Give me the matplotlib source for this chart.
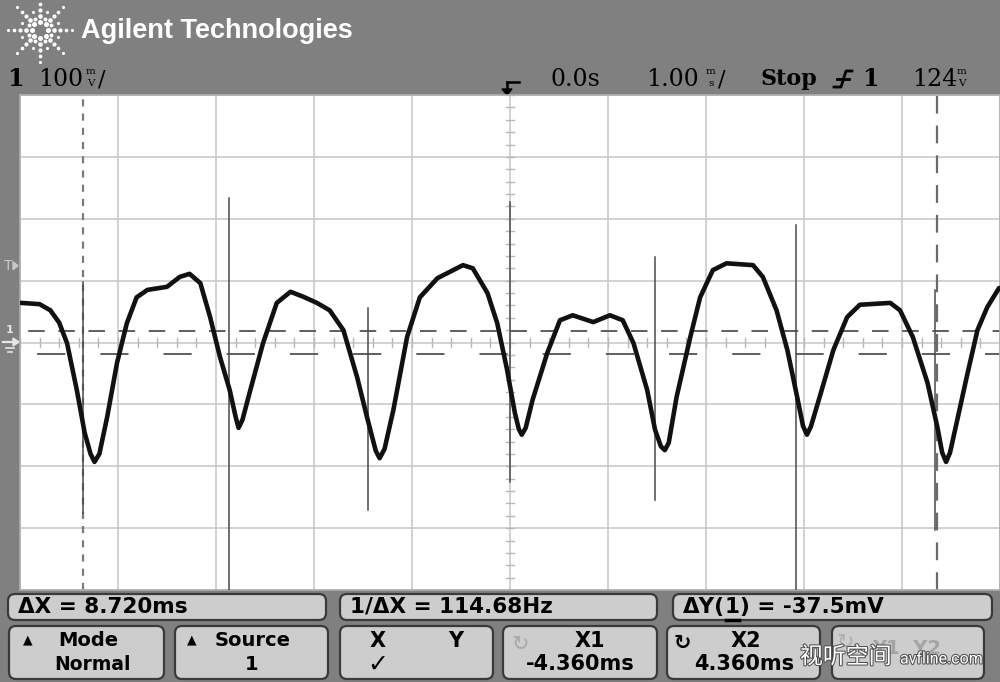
import numpy as np
import matplotlib.pyplot as plt
from matplotlib.patches import FancyBboxPatch, Polygon
import matplotlib.patheffects as pe

# channel 1 trace (time in ms, voltage in mV)
t_ms = [-4.99, -4.80, -4.69, -4.60, -4.52, -4.42, -4.34, -4.28, -4.24, -4.19, -4.11,
        -4.01, -3.91, -3.81, -3.70, -3.50, -3.37, -3.27, -3.16, -3.06, -2.96,
        -2.86, -2.80, -2.77, -2.73, -2.65, -2.52, -2.38, -2.24, -2.11, -1.97,
        -1.84, -1.70, -1.56, -1.46, -1.37, -1.33, -1.28, -1.19, -1.05, -0.92,
        -0.74, -0.48, -0.38, -0.23, -0.13, -0.03, 0.05, 0.09, 0.12, 0.16,
        0.23, 0.38, 0.51, 0.64, 0.85, 1.02, 1.15, 1.26, 1.40, 1.48,
        1.54, 1.58, 1.62, 1.70, 1.84, 1.94, 2.07, 2.21, 2.48, 2.58,
        2.72, 2.83, 2.93, 2.99, 3.03, 3.07, 3.16, 3.30, 3.44, 3.57,
        3.88, 3.98, 4.11, 4.26, 4.36, 4.41, 4.45, 4.49, 4.56, 4.66,
        4.77, 4.87, 4.99]
v_mv = [64, 62, 52, 32, -1, -77, -146, -180, -193, -180, -120,
        -33, 31, 73, 85, 90, 106, 111, 96, 41, -23,
        -77, -120, -138, -125, -77, -1, 64, 82, 74, 64,
        52, 20, -56, -120, -175, -187, -172, -109, 9, 73,
        104, 125, 120, 80, 31, -44, -114, -140, -149, -138,
        -93, -17, 36, 44, 33, 44, 36, -1, -77, -141,
        -168, -174, -162, -88, 9, 73, 117, 128, 125, 106,
        52, -12, -88, -135, -149, -136, -88, -12, 41, 61,
        64, 52, 9, -65, -136, -178, -193, -178, -128, -56,
        20, 57, 88]

# narrow glitch spikes on the trace
spike_t = [-4.357, -2.867, -1.449, 0.0, 1.480, 2.918, 4.337]
spike_hi = [98, 233, 56, 227, 138, 190, 85]
spike_lo = [-275, -400, -271, -225, -254, -400, -303]

# cursors and trigger level
x1_ms, x2_ms = -4.36, 4.36
y1_mv, y2_mv = 18.75, -18.75
trig_mv = 124

x_div = np.arange(-5, 6, 1)
y_div = np.arange(-400, 401, 100)

GRAY = '#808080'
fig = plt.figure(figsize=(10, 6.82), dpi=100, facecolor=GRAY)

# pixel-space layer for the instrument chrome
bg = fig.add_axes([0, 0, 1, 1])
bg.set_xlim(0, 1000)
bg.set_ylim(682, 0)
bg.axis('off')

# screen
ax = fig.add_axes([20 / 1000, (682 - 590) / 682, 980 / 1000, 495 / 682])
ax.set_xlim(-5, 5)
ax.set_ylim(-400, 400)
ax.set_facecolor('white')
ax.set_xticks([])
ax.set_yticks([])
for s in ax.spines.values():
    s.set_color('#b0b0b0')
    s.set_linewidth(1.2)

for x in x_div:
    ax.axvline(x, color='#c6c6c6', lw=1.1, zorder=1)
for y in y_div:
    ax.axhline(y, color='#c6c6c6', lw=1.1, zorder=1)
# minor ticks on the centre axes
for x in np.arange(-5, 5.01, 0.2):
    ax.plot([x, x], [-7, 7], color='#b8b8b8', lw=1, zorder=1)
for y in np.arange(-400, 401, 20):
    ax.plot([-0.045, 0.045], [y, y], color='#b8b8b8', lw=1, zorder=1)

# cursors
ax.axvline(x1_ms, color='#7a7a7a', lw=1.6, linestyle=(0, (3.2, 3.2)), zorder=2)
ax.axvline(x2_ms, color='#6a6a6a', lw=1.6, linestyle=(0, (8, 5.4)), zorder=2)
ax.axhline(y1_mv, color='#5e5e5e', lw=1.4, linestyle=(11.3, (8.5, 7)), zorder=2)
ax.axhline(y2_mv, color='#5e5e5e', lw=1.4, linestyle=(23.7, (14.5, 18)), zorder=2)

# trace
for t, hi, lo in zip(spike_t, spike_hi, spike_lo):
    ax.plot([t, t], [lo, hi], color='#4a4a4a', lw=1.1, zorder=3)
ax.plot(t_ms, v_mv, color='#111111', lw=3.3, solid_joinstyle='round',
        solid_capstyle='round', zorder=4)

# ---- header ----
cx, cy = 40, 30
for k in range(8):
    a = k * np.pi / 4
    for r, sz in zip([8, 14, 20, 26, 32], [13, 11, 9, 7, 5]):
        bg.scatter(cx + r * np.cos(a), cy + r * np.sin(a), s=sz, color='white', lw=0)
    a2 = a + np.pi / 8
    for r, sz in zip([12, 19], [8, 5]):
        bg.scatter(cx + r * np.cos(a2), cy + r * np.sin(a2), s=sz, color='white', lw=0)
bg.text(81, 31, 'Agilent Technologies', color='white', fontsize=19.5, fontweight='bold',
        family='Liberation Sans', va='center', ha='left')

serif = 'DejaVu Serif'
bg.text(7, 79, '1', fontsize=17, fontweight='bold', family=serif, va='center')
bg.text(38, 79, '100', fontsize=17, family=serif, va='center')
bg.text(91, 72, 'm', fontsize=7.5, family=serif, va='center', ha='center')
bg.text(91, 84, 'V', fontsize=7.5, family=serif, va='center', ha='center')
bg.text(98, 79, '/', fontsize=16, family=serif, va='center')

bg.text(551, 79, '0.0s', fontsize=17, family=serif, va='center')
bg.text(646, 79, '1.00', fontsize=17, family=serif, va='center')
bg.text(711, 72, 'm', fontsize=7.5, family=serif, va='center', ha='center')
bg.text(711, 84, 's', fontsize=7.5, family=serif, va='center', ha='center')
bg.text(718, 79, '/', fontsize=16, family=serif, va='center')
bg.text(761, 79, 'Stop', fontsize=16, fontweight='bold', family=serif, va='center')
bg.plot([834, 841, 846, 852], [87, 87, 71, 71], color='black', lw=2)
bg.plot([837, 849], [79, 79], color='black', lw=2)
bg.text(862, 79, '1', fontsize=17, fontweight='bold', family=serif, va='center')
bg.text(912, 79, '124', fontsize=17, family=serif, va='center')
bg.text(962, 72, 'm', fontsize=7.5, family=serif, va='center', ha='center')
bg.text(962, 84, 'V', fontsize=7.5, family=serif, va='center', ha='center')

# trigger position marker
bg.plot([507, 519], [82, 82], color='black', lw=1.8)
bg.plot([507, 507], [82, 90], color='black', lw=1.8)
bg.add_patch(Polygon([[502, 89], [512, 89], [507, 95]], closed=True, color='black'))

# left strip markers (trigger level and channel ground)
ty = 342.5 - trig_mv * 0.619
bg.text(4, ty, 'T', color='#c8c8c8', fontsize=10, va='center', family='DejaVu Sans')
bg.add_patch(Polygon([[13, ty - 4], [13, ty + 4], [18, ty]], closed=True, color='#c8c8c8'))
bg.text(10, 330, '1', color='#e6e6e6', fontsize=8, fontweight='bold', va='center', ha='center')
bg.plot([3, 14], [342, 342], color='#e6e6e6', lw=1.6)
bg.add_patch(Polygon([[13, 338], [13, 346], [19, 342]], closed=True, color='#e6e6e6'))
bg.plot([6, 14], [348, 348], color='#e6e6e6', lw=1.2)
bg.plot([8, 12], [352, 352], color='#e6e6e6', lw=1.2)


# ---- softkeys ----
def button(x0, y0, x1, y1):
    bg.add_patch(FancyBboxPatch((x0, y0), x1 - x0, y1 - y0,
                                boxstyle='round,pad=0,rounding_size=7',
                                fc='#cdcdcd', ec='#3a3a3a', lw=1.6))


sans = 'DejaVu Sans'
kw = dict(fontsize=15.5, fontweight='bold', family=sans, va='center')
button(8, 594, 326, 620)
button(340, 594, 657, 620)
button(673, 594, 992, 620)
bg.text(18, 607, 'ΔX = 8.720ms', **kw)
bg.text(350, 607, '1/ΔX = 114.68Hz', **kw)
# ΔY(1) with the channel number underlined
r = fig.canvas.get_renderer()
inv = bg.transData.inverted()
t0 = bg.text(683, 607, 'ΔY(', **kw)
xa = inv.transform(t0.get_window_extent(r))[1][0]
t1 = bg.text(xa, 607, '1', **kw)
xb = inv.transform(t1.get_window_extent(r))[1][0]
bg.text(xb, 607, ') = -37.5mV', **kw)
bg.plot([xa + 1, xb - 1], [620, 620], color='black', lw=2.5)

row = [(9, 164), (175, 328), (340, 493), (503, 657), (667, 820), (832, 984)]
for x0, x1 in row:
    button(x0, 626, x1, 679)

bg.text(28, 640, '▲', fontsize=9, family=sans, va='center', ha='center')
bg.text(88, 641, 'Mode', fontsize=14, fontweight='bold', family=sans, va='center', ha='center')
bg.text(93, 664, 'Normal', fontsize=13.5, fontweight='bold', family=sans, va='center', ha='center')
bg.text(192, 640, '▲', fontsize=9, family=sans, va='center', ha='center')
bg.text(253, 641, 'Source', fontsize=14, fontweight='bold', family=sans, va='center', ha='center')
bg.text(252, 664, '1', fontsize=14, fontweight='bold', family=sans, va='center', ha='center')
bg.text(378, 641, 'X', fontsize=15, fontweight='bold', family=sans, va='center', ha='center')
bg.text(456, 641, 'Y', fontsize=15, fontweight='bold', family=sans, va='center', ha='center')
bg.text(378, 665, '✓', fontsize=18, fontweight='bold', family=sans, va='center', ha='center')
bg.text(520, 643, '↻', fontsize=15, color='#a8a8a8', family=sans, va='center', ha='center')
bg.text(590, 641, 'X1', fontsize=15, fontweight='bold', family=sans, va='center', ha='center')
bg.text(580, 664, '-4.360ms', fontsize=15, fontweight='bold', family=sans, va='center', ha='center')
bg.text(682, 643, '↻', fontsize=15, color='black', fontweight='bold', family=sans,
        va='center', ha='center')
bg.text(746, 641, 'X2', fontsize=15, fontweight='bold', family=sans, va='center', ha='center')
bg.text(744, 664, '4.360ms', fontsize=15, fontweight='bold', family=sans, va='center', ha='center')
bg.text(845, 641, '↻', fontsize=15, color='#b0b0b0', family=sans, va='center', ha='center')
bg.text(907, 648, 'Y1  Y2', fontsize=14, color='#a4a4a4', fontweight='bold', family=sans,
        va='center', ha='center')

# site watermark
halo = [pe.withStroke(linewidth=1.5, foreground='#505050')]
bg.text(800, 657, '视听空间', fontsize=16.5, color='white', family=['Noto Sans CJK SC', 'DejaVu Sans'],
        va='center', ha='left', path_effects=halo)
bg.text(900, 659, 'avfline.com', fontsize=11.5, color='white', family='Roboto',
        va='center', ha='left', path_effects=halo)

fig.savefig('out.png', dpi=100, facecolor=GRAY)
